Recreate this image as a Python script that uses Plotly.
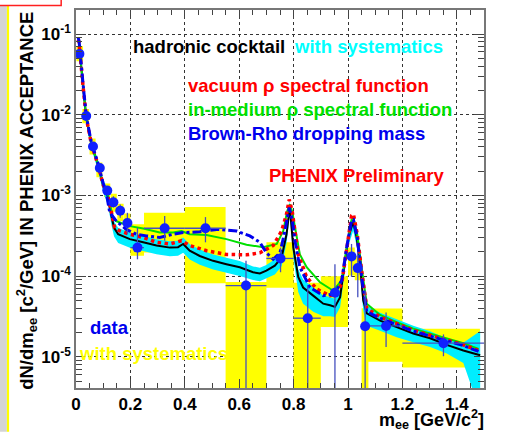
import plotly.graph_objects as go

# ---------------- data ----------------
# measured points
data_mass = [0.0125, 0.0375, 0.0625, 0.0875, 0.115, 0.1375, 0.1625, 0.189, 0.226, 0.326,
             0.476, 0.625, 0.752, 0.852, 0.952, 1.013, 1.036, 1.063, 1.14, 1.351]
data_yield = [5.68e-2, 9.64e-3, 4.04e-3, 2.19e-3, 1.15e-3, 8.22e-4, 6.46e-4, 4.57e-4, 2.26e-4, 3.93e-4,
              3.93e-4, 7.66e-5, 1.66e-4, 3.02e-5, 6.24e-5, 1.76e-4, 1.26e-4, 2.40e-5, 2.42e-5, 1.48e-5]
data_stat_hi = [6.2e-2, 1.06e-2, 4.4e-3, 2.4e-3, 1.27e-3, 9.8e-4, 7.76e-4, 6.1e-4, 3.98e-4, 5.56e-4,
                5.4e-4, 1.55e-4, 2.26e-4, 7.66e-5, 1.41e-4, 2.51e-4, 1.97e-4, 6.6e-5, 3.55e-5, 1.9e-5]
data_stat_lo = [5.2e-2, 8.8e-3, 3.7e-3, 2.0e-3, 1.04e-3, 7.1e-4, 5.3e-4, 3.3e-4, 1.62e-4, 2.75e-4,
                2.63e-4, 1e-6, 1.12e-4, 1e-6, 1e-6, 9.8e-5, 5.5e-5, 1e-6, 1.33e-5, 1.02e-5]
data_bin_lo = [0.0125, 0.0375, 0.0625, 0.0875, 0.115, 0.1375, 0.1625, 0.189, 0.2, 0.25,
               0.4, 0.55, 0.7, 0.8, 0.952, 1.013, 1.036, 1.063, 1.07, 1.2]
data_bin_hi = [0.0125, 0.0375, 0.0625, 0.0875, 0.115, 0.1375, 0.1625, 0.189, 0.25, 0.4,
               0.55, 0.7, 0.8, 0.9, 0.952, 1.013, 1.036, 1.063, 1.2, 1.5]

# systematic boxes of the data
sys_x0 = [0.0015, 0.0235, 0.050, 0.075, 0.103, 0.128, 0.152, 0.177, 0.2, 0.25,
          0.4, 0.55, 0.7, 0.8, 0.9, 1.0, 1.025, 1.05, 1.075, 1.2]
sys_x1 = [0.026, 0.048, 0.072, 0.097, 0.126, 0.15, 0.175, 0.2, 0.25, 0.4,
          0.55, 0.7, 0.8, 0.9, 1.0, 1.025, 1.05, 1.075, 1.2, 1.485]
sys_lo = [4.6e-2, 7.83e-3, 3.23e-3, 1.68e-3, 9.55e-4, 6.3e-4, 4.8e-4, 3.16e-4, 1.79e-4, 1.97e-4,
          8.2e-5, 1e-6, 7.2e-5, 1e-6, 2.34e-5, 1.02e-4, 8.9e-5, 1e-6, 8.7e-6, 7.4e-6]
sys_hi = [7.06e-2, 1.18e-2, 5.07e-3, 2.57e-3, 1.41e-3, 1.05e-3, 7.9e-4, 6.0e-4, 4.4e-4, 6.1e-4,
          7.18e-4, 8.5e-5, 2.63e-4, 8.3e-5, 1.0e-4, 2.26e-4, 1.78e-4, 4.0e-5, 3.98e-5, 2.24e-5]

# hadronic cocktail
ck_mass = [0.008, 0.011, 0.026, 0.038, 0.057, 0.081, 0.099, 0.118, 0.13, 0.14,
           0.155, 0.198, 0.247, 0.296, 0.345, 0.375, 0.394, 0.418, 0.455, 0.504,
           0.553, 0.602, 0.651, 0.676, 0.70, 0.731, 0.756, 0.774, 0.786, 0.799,
           0.817, 0.835, 0.872, 0.909, 0.934, 0.952, 0.971, 0.989, 1.001, 1.019,
           1.032, 1.044, 1.056, 1.069, 1.118, 1.179, 1.240, 1.302, 1.363, 1.424, 1.486]
ck_yield = [8.5e-2, 7.94e-2, 2.24e-2, 9.0e-3, 4.27e-3, 2.40e-3, 1.38e-3, 9.55e-4, 5.62e-4, 3.98e-4,
            3.31e-4, 2.88e-4, 2.63e-4, 2.40e-4, 2.26e-4, 2.29e-4, 2.51e-4, 2.07e-4, 1.78e-4, 1.55e-4,
            1.41e-4, 1.29e-4, 1.12e-4, 1.08e-4, 1.17e-4, 1.35e-4, 1.70e-4, 3.31e-4, 7.2e-4, 2.26e-4,
            9.77e-5, 7.24e-5, 5.75e-5, 4.57e-5, 4.37e-5, 4.17e-5, 5.50e-5, 1.41e-4, 3.02e-4, 4.7e-4,
            3.02e-4, 1.41e-4, 5.01e-5, 3.47e-5, 2.82e-5, 2.34e-5, 1.95e-5, 1.70e-5, 1.41e-5, 1.20e-5, 1.05e-5]
ck_sys_up = [0.1, 0.1, 0.1, 0.1, 0.12, 0.15, 0.18, 0.2, 0.2, 0.2,
             0.2, 0.2, 0.2, 0.2, 0.2, 0.2, 0.2, 0.2, 0.2, 0.2,
             0.2, 0.2, 0.18, 0.18, 0.18, 0.2, 0.2, 0.2, 0.2, 0.2,
             0.25, 0.26, 0.26, 0.26, 0.26, 0.26, 0.26, 0.2, 0.2, 0.2,
             0.2, 0.2, 0.22, 0.25, 0.25, 0.25, 0.25, 0.22, 0.2, 0.25, 1.0]
ck_sys_dn = [0.1, 0.1, 0.1, 0.1, 0.12, 0.15, 0.18, 0.22, 0.22, 0.22,
             0.22, 0.22, 0.22, 0.22, 0.22, 0.22, 0.22, 0.22, 0.22, 0.22,
             0.22, 0.22, 0.2, 0.2, 0.2, 0.22, 0.22, 0.22, 0.22, 0.25,
             0.35, 0.37, 0.37, 0.3, 0.27, 0.25, 0.25, 0.22, 0.22, 0.22,
             0.22, 0.22, 0.25, 0.3, 0.25, 0.25, 0.22, 0.22, 0.22, 0.3, 0.8]

# vacuum rho spectral function
vac_mass = [0.008, 0.011, 0.026, 0.038, 0.057, 0.081, 0.099, 0.118, 0.13, 0.142,
            0.161, 0.198, 0.247, 0.296, 0.345, 0.37, 0.388, 0.418, 0.48, 0.553,
            0.627, 0.676, 0.725, 0.756, 0.774, 0.784, 0.795, 0.805, 0.817, 0.848,
            0.885, 0.934, 0.958, 0.977, 0.995, 1.013, 1.020, 1.034, 1.05, 1.069,
            1.118, 1.179, 1.24, 1.30, 1.363, 1.424, 1.48]
vac_yield = [8.5e-2, 7.94e-2, 2.24e-2, 9.12e-3, 4.27e-3, 2.40e-3, 1.38e-3, 9.55e-4, 6.31e-4, 3.98e-4,
             3.63e-4, 3.31e-4, 3.02e-4, 2.63e-4, 2.51e-4, 2.63e-4, 2.75e-4, 2.40e-4, 2.07e-4, 1.86e-4,
             1.84e-4, 1.95e-4, 2.40e-4, 3.63e-4, 5.89e-4, 8.91e-4, 6.31e-4, 3.63e-4, 1.86e-4, 9.77e-5,
             6.92e-5, 5.75e-5, 6.03e-5, 8.13e-5, 2.26e-4, 5.62e-4, 5.89e-4, 3.31e-4, 1.17e-4, 3.98e-5,
             3.13e-5, 2.57e-5, 2.14e-5, 1.86e-5, 1.62e-5, 1.41e-5, 1.20e-5]

# in-medium rho spectral function
med_mass = [0.008, 0.011, 0.026, 0.038, 0.057, 0.081, 0.099, 0.118, 0.136, 0.149,
            0.198, 0.247, 0.308, 0.357, 0.388, 0.418, 0.48, 0.553, 0.627, 0.688,
            0.738, 0.762, 0.776, 0.786, 0.795, 0.805, 0.823, 0.848, 0.897, 0.946,
            0.977, 0.995, 1.013, 1.020, 1.034, 1.05, 1.069, 1.118, 1.179, 1.24,
            1.30, 1.363, 1.424, 1.48]
med_yield = [8.5e-2, 7.94e-2, 2.24e-2, 9.12e-3, 4.27e-3, 2.40e-3, 1.38e-3, 1.0e-3, 5.31e-4, 4.79e-4,
             4.17e-4, 3.89e-4, 3.47e-4, 3.47e-4, 3.63e-4, 3.31e-4, 3.24e-4, 2.88e-4, 2.45e-4, 2.29e-4,
             2.51e-4, 3.63e-4, 6.31e-4, 7.76e-4, 6.31e-4, 3.98e-4, 1.86e-4, 1.29e-4, 8.41e-5, 6.61e-5,
             8.91e-5, 2.26e-4, 5.01e-4, 5.25e-4, 3.31e-4, 1.29e-4, 4.57e-5, 3.31e-5, 2.69e-5, 2.24e-5,
             1.95e-5, 1.70e-5, 1.48e-5, 1.26e-5]

# Brown-Rho dropping mass
br_mass = [0.008, 0.011, 0.026, 0.038, 0.057, 0.081, 0.099, 0.112, 0.124, 0.149,
           0.185, 0.222, 0.259, 0.308, 0.357, 0.394, 0.455, 0.517, 0.59, 0.639,
           0.676, 0.70, 0.725, 0.75, 0.768, 0.784, 0.795, 0.805, 0.823, 0.86,
           0.909, 0.952, 0.977, 0.995, 1.013, 1.020, 1.034, 1.05, 1.069, 1.118,
           1.179, 1.24, 1.30, 1.363, 1.424, 1.48]
br_yield = [9.0e-2, 8.32e-2, 2.40e-2, 9.55e-3, 4.47e-3, 2.51e-3, 1.45e-3, 1.05e-3, 6.17e-4, 4.79e-4,
            3.80e-4, 3.31e-4, 3.16e-4, 3.02e-4, 3.31e-4, 3.47e-4, 3.55e-4, 3.80e-4, 3.63e-4, 3.16e-4,
            2.63e-4, 1.95e-4, 1.62e-4, 1.95e-4, 3.63e-4, 7.08e-4, 5.01e-4, 2.75e-4, 1.29e-4, 7.24e-5,
            5.75e-5, 6.03e-5, 8.91e-5, 2.26e-4, 4.90e-4, 5.01e-4, 3.02e-4, 9.77e-5, 3.63e-5, 3.02e-5,
            2.51e-5, 2.09e-5, 1.82e-5, 1.58e-5, 1.38e-5, 1.17e-5]

x_tick_vals = [0, 0.2, 0.4, 0.6, 0.8, 1.0, 1.2, 1.4]
x_tick_text = ["0", "0.2", "0.4", "0.6", "0.8", "1", "1.2", "1.4"]
y_tick_vals = [1e-5, 1e-4, 1e-3, 1e-2, 1e-1]
y_tick_text = ["10<sup>-5</sup>", "10<sup>-4</sup>", "10<sup>-3</sup>", "10<sup>-2</sup>", "10<sup>-1</sup>"]

# ---------------- figure ----------------
FONT = "Liberation Sans, Arial, Helvetica, sans-serif"
fig = go.Figure()

# yellow systematic boxes
bx, by = [], []
for x0, x1, lo, hi in zip(sys_x0, sys_x1, sys_lo, sys_hi):
    bx += [x0, x1, x1, x0, x0, None]
    by += [lo, lo, hi, hi, lo, None]
fig.add_trace(go.Scatter(x=bx, y=by, mode="lines", fill="toself", fillcolor="#ffff00",
                         line=dict(width=0, color="#ffff00"), hoverinfo="skip", showlegend=False))

# cyan cocktail band
band_hi = [y * (1 + u) for y, u in zip(ck_yield, ck_sys_up)]
band_lo = [y * (1 - d) for y, d in zip(ck_yield, ck_sys_dn)]
fig.add_trace(go.Scatter(x=ck_mass + ck_mass[::-1], y=band_hi + band_lo[::-1], mode="lines",
                         fill="toself", fillcolor="rgb(0,238,255)", line=dict(width=0),
                         hoverinfo="skip", showlegend=False))

# model curves
fig.add_trace(go.Scatter(x=ck_mass, y=ck_yield, mode="lines",
                         line=dict(color="black", width=2), showlegend=False))
fig.add_trace(go.Scatter(x=med_mass, y=med_yield, mode="lines",
                         line=dict(color="#00e000", width=2), showlegend=False))
fig.add_trace(go.Scatter(x=vac_mass, y=vac_yield, mode="lines",
                         line=dict(color="#ff0000", width=3.5, dash="dot"), showlegend=False))
fig.add_trace(go.Scatter(x=br_mass, y=br_yield, mode="lines",
                         line=dict(color="#0000ee", width=3, dash="dashdot"), showlegend=False))

# data points
fig.add_trace(go.Scatter(
    x=data_mass, y=data_yield, mode="markers",
    marker=dict(color="#1020ff", size=10, symbol="circle"),
    error_y=dict(type="data", symmetric=False,
                 array=[h - y for h, y in zip(data_stat_hi, data_yield)],
                 arrayminus=[y - l for l, y in zip(data_stat_lo, data_yield)],
                 color="rgb(70,80,190)", thickness=1.3, width=0),
    error_x=dict(type="data", symmetric=False,
                 array=[h - x for h, x in zip(data_bin_hi, data_mass)],
                 arrayminus=[x - l for l, x in zip(data_bin_lo, data_mass)],
                 color="rgb(70,80,190)", thickness=1.3, width=0),
    showlegend=False))

# axes
minor_y = []
for e in range(-6, 0):
    for m in range(2, 10):
        minor_y.append(m * 10.0 ** e)

fig.update_xaxes(range=[0, 1.5], tickvals=x_tick_vals, ticktext=x_tick_text,
                 ticks="inside", ticklen=9, tickwidth=1, tickcolor="#444",
                 minor=dict(ticks="inside", ticklen=5, dtick=0.05, tick0=0, tickcolor="#444", showgrid=False),
                 showgrid=True, gridcolor="#333", griddash="dot", gridwidth=1,
                 showline=True, linecolor="#777", linewidth=1.5, mirror="allticks",
                 zeroline=False,
                 tickfont=dict(family=FONT, size=17, color="black", weight="bold"))
fig.update_yaxes(type="log", range=[-5.385, -0.702], tickvals=y_tick_vals, ticktext=y_tick_text,
                 ticks="inside", ticklen=10, tickwidth=1, tickcolor="#444",
                 minor=dict(ticks="inside", ticklen=6, tickvals=minor_y, tickcolor="#444", showgrid=False),
                 showgrid=True, gridcolor="#333", griddash="dot", gridwidth=1,
                 showline=True, linecolor="#777", linewidth=1.5, mirror="allticks",
                 zeroline=False,
                 tickfont=dict(family=FONT, size=17, color="black", weight="bold"))

# text
W, H, L, B = 407.4, 380.5, 76.3, 388.0
def px(xp):
    return (xp - L) / W
def py(yp):
    return (B - yp) / H

texts = [
    ("hadronic cocktail", "black", 131, 44),
    ("with systematics", "#00ffff", 292, 44),
    ("vacuum ρ spectral function", "#ff0000", 186, 83),
    ("in-medium ρ spectral function", "#00e000", 186, 107.5),
    ("Brown-Rho dropping mass", "#0000ee", 186, 132),
    ("PHENIX Preliminary", "#ff0000", 267, 174),
    ("data", "#0000ee", 88, 327),
    ("with systematics", "#ffff00", 77, 353),
]
for t, c, xp, yp in texts:
    fig.add_annotation(text="<b>%s</b>" % t, x=px(xp), y=py(yp), xref="paper", yref="paper",
                       xanchor="left", yanchor="middle", showarrow=False,
                       font=dict(family=FONT, size=18.5, color=c))

fig.add_annotation(text="<b>dN/dm<sub>ee</sub> [c<sup>2</sup>/GeV] IN PHENIX ACCEPTANCE</b>",
                   x=px(27), y=py(200), xref="paper", yref="paper", textangle=-90,
                   xanchor="center", yanchor="middle", showarrow=False,
                   font=dict(family=FONT, size=18.5, color="black"))
fig.add_annotation(text="<b>m<sub>ee</sub> [GeV/c<sup>2</sup>]</b>",
                   x=px(486), y=py(420), xref="paper", yref="paper",
                   xanchor="right", yanchor="middle", showarrow=False,
                   font=dict(family=FONT, size=18, color="black"))

# slide decorations at the left edge
fig.add_shape(type="rect", xref="paper", yref="paper", x0=px(0), x1=px(7.3), y0=py(432), y1=py(0),
              fillcolor="#d4d4d4", line=dict(width=0), layer="above")
fig.add_shape(type="rect", xref="paper", yref="paper", x0=px(7.3), x1=px(9.5), y0=py(432), y1=py(0),
              fillcolor="#ffff00", line=dict(width=0), layer="above")
fig.add_shape(type="rect", xref="paper", yref="paper", x0=px(-2), x1=px(61.5), y0=py(3), y1=py(-5),
              fillcolor="white", line=dict(color="#ff2020", width=1.5), layer="above")

fig.update_layout(width=527, height=432, margin=dict(l=76, r=43, t=8, b=44),
                  paper_bgcolor="white", plot_bgcolor="white",
                  font=dict(family=FONT, color="black"))

fig.write_html("out.html")
